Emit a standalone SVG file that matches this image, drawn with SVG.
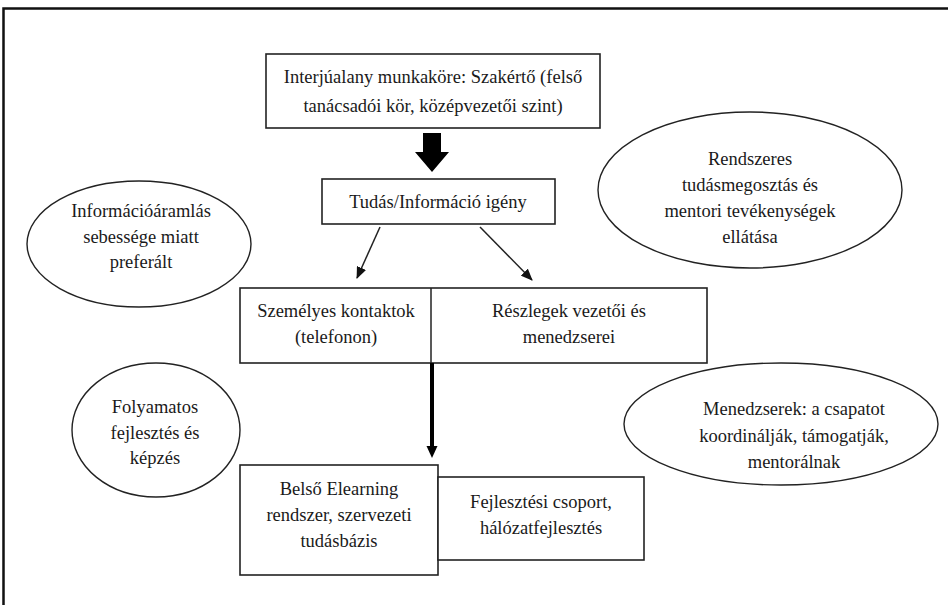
<svg xmlns="http://www.w3.org/2000/svg" width="948" height="605" viewBox="0 0 948 605">
<style>
text{font-family:"Liberation Serif","DejaVu Serif","Times New Roman",serif;font-size:18.5px;fill:#1a1a1a;text-anchor:middle}
.box{fill:#fff;stroke:#222;stroke-width:1.6}
.ell{fill:#fff;stroke:#222;stroke-width:1.4}
.thin{stroke:#222;stroke-width:1.5;fill:none}
</style>
<defs>
<marker id="ah" viewBox="0 0 12 10" refX="11" refY="5" markerWidth="12" markerHeight="10" markerUnits="userSpaceOnUse" orient="auto">
<path d="M0,0 L12,5 L0,10 z" fill="#111"/>
</marker>
</defs>
<rect width="948" height="605" fill="#fff"/>
<path d="M3.5,605 V8.5 H948" fill="none" stroke="#111" stroke-width="2.5"/>

<g id="top">
<rect class="box" x="266" y="54" width="334" height="74"/>
<text x="433" y="83">Interjúalany munkaköre: Szakértő (felső</text>
<text x="433" y="112">tanácsadói kör, középvezetői szint)</text>
</g>
<g id="need">
<rect class="box" x="322" y="179" width="233" height="45"/>
<text x="438" y="208">Tudás/Információ igény</text>
</g>
<g id="mid">
<rect class="box" x="240" y="288" width="467" height="75"/>
<line class="thin" x1="431" y1="288" x2="431" y2="363"/>
<text x="336" y="317">Személyes kontaktok</text>
<text x="336" y="343">(telefonon)</text>
<text x="569" y="317">Részlegek vezetői és</text>
<text x="569" y="343">menedzserei</text>
</g>
<g id="elearn">
<rect class="box" x="240" y="465" width="198" height="110"/>
<text x="339" y="495">Belső Elearning</text>
<text x="339" y="521">rendszer, szervezeti</text>
<text x="339" y="547">tudásbázis</text>
</g>
<g id="dev">
<rect class="box" x="438" y="477" width="206" height="83"/>
<text x="541" y="508">Fejlesztési csoport,</text>
<text x="541" y="534">hálózatfejlesztés</text>
</g>
<g id="e1">
<ellipse class="ell" cx="139" cy="244" rx="112" ry="63"/>
<text x="141" y="217">Információáramlás</text>
<text x="141" y="243">sebessége miatt</text>
<text x="141" y="268">preferált</text>
</g>
<g id="e2">
<ellipse class="ell" cx="750" cy="190" rx="152" ry="78"/>
<text x="750" y="165">Rendszeres</text>
<text x="750" y="191">tudásmegosztás és</text>
<text x="750" y="217">mentori tevékenységek</text>
<text x="750" y="243">ellátása</text>
</g>
<g id="e3">
<ellipse class="ell" cx="156" cy="430" rx="84" ry="67"/>
<text x="155" y="413">Folyamatos</text>
<text x="155" y="439">fejlesztés és</text>
<text x="155" y="464">képzés</text>
</g>
<g id="e4">
<ellipse class="ell" cx="781" cy="424" rx="157" ry="61"/>
<text x="794" y="415">Menedzserek: a csapatot</text>
<text x="794" y="442">koordinálják, támogatják,</text>
<text x="794" y="468">mentorálnak</text>
</g>

<g id="connectors">
<polygon points="423,133 441,133 441,152 449,152 432,172 415,152 423,152" fill="#000"/>
<line class="thin" x1="380" y1="227" x2="357" y2="278" marker-end="url(#ah)"/>
<line class="thin" x1="480" y1="227" x2="532" y2="280" marker-end="url(#ah)"/>
<line x1="432" y1="363" x2="432" y2="448" stroke="#000" stroke-width="4"/>
<polygon points="426.5,446 437.5,446 432,458" fill="#000"/>
</g>
</svg>
